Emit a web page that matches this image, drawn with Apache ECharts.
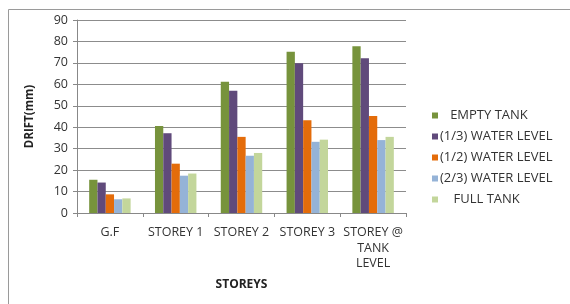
<!DOCTYPE html>
<html><head><meta charset="utf-8">
<script src="https://cdn.jsdelivr.net/npm/echarts@6/dist/echarts.min.js"></script>
<style>html,body{margin:0;padding:0;background:#fff}#c{width:570px;height:304px}</style>
</head><body><div id="c"></div>
<script>
const categories = ['G.F', 'STOREY 1', 'STOREY 2', 'STOREY 3', 'STOREY @\nTANK\nLEVEL'];
const emptyTank = [15.5, 40.6, 61.2, 75.2, 77.8];
const oneThird = [14.2, 37.2, 57.0, 69.8, 72.2];
const oneHalf = [8.7, 23.0, 35.5, 43.3, 45.2];
const twoThird = [6.4, 17.4, 26.7, 33.2, 34.0];
const fullTank = [6.8, 18.4, 28.0, 34.2, 35.5];
const yTicks = [0, 10, 20, 30, 40, 50, 60, 70, 80, 90];

const seriesDefs = [
  { name: 'EMPTY TANK', data: emptyTank, color: '#77933C', pad: '   ' },
  { name: '(1/3) WATER LEVEL', data: oneThird, color: '#604A7B', pad: '' },
  { name: '(1/2) WATER LEVEL', data: oneHalf, color: '#E46C0A', pad: '' },
  { name: '(2/3) WATER LEVEL', data: twoThird, color: '#95B3D7', pad: '' },
  { name: 'FULL TANK', data: fullTank, color: '#C3D69B', pad: '    ' }
];
const padMap = {};
seriesDefs.forEach(s => padMap[s.name] = s.pad);

const font = '"Open Sans", Lato, sans-serif';
const chart = echarts.init(document.getElementById('c'));
chart.setOption({
  animation: false,
  textStyle: { fontFamily: font },
  graphic: [{
    type: 'rect', left: 6, top: 7, shape: { width: 620, height: 400 },
    style: { fill: 'none', stroke: '#9a9a9a', lineWidth: 1 }, silent: true, z: -10
  }],
  grid: { left: 77, right: 164, top: 20, bottom: 91 },
  legend: {
    orient: 'vertical', left: 427, top: 102, itemGap: 4,
    itemWidth: 6, itemHeight: 6, icon: 'rect',
    formatter: n => padMap[n] + n,
    textStyle: { fontFamily: font, fontSize: 13, color: '#333', lineHeight: 17, padding: [0, 0, 0, -3] }
  },
  xAxis: {
    type: 'category', data: categories,
    name: 'STOREYS', nameLocation: 'middle', nameGap: 66,
    nameTextStyle: { fontFamily: font, fontSize: 12, fontWeight: 'bold', color: '#222' },
    axisLine: { lineStyle: { color: '#888' } },
    axisTick: { show: true, length: 4, lineStyle: { color: '#888' } },
    axisLabel: { fontFamily: font, fontSize: 12.5, color: '#333', margin: 12, lineHeight: 15.5, interval: 0 }
  },
  yAxis: {
    type: 'value', min: 0, max: 90, interval: 10,
    name: 'DRIFT(mm)', nameLocation: 'middle', nameGap: 41, nameRotate: 90,
    nameTextStyle: { fontFamily: font, fontSize: 11.5, fontWeight: 'bold', color: '#222' },
    axisLine: { show: true, lineStyle: { color: '#888' } },
    axisTick: { show: true, length: 4, lineStyle: { color: '#888' } },
    axisLabel: { fontFamily: font, fontSize: 12.5, color: '#333', margin: 9,
      formatter: v => yTicks.includes(v) ? String(v) : '' },
    splitLine: { lineStyle: { color: '#8c8c8c' } }
  },
  series: seriesDefs.map(s => ({
    type: 'bar', name: s.name, data: s.data,
    itemStyle: { color: s.color },
    barGap: '0%', barCategoryGap: '37%'
  }))
});
</script></body></html>
